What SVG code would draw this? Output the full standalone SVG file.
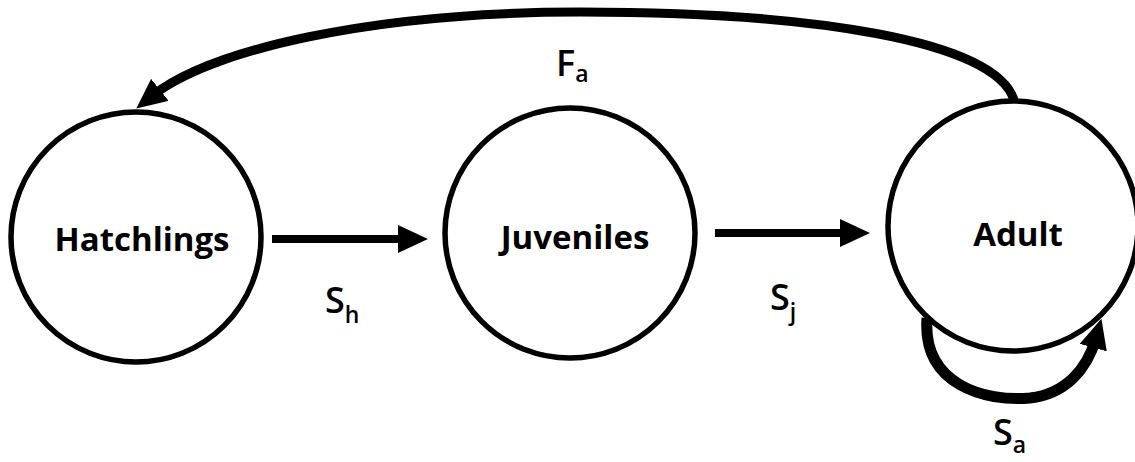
<svg xmlns="http://www.w3.org/2000/svg" width="1135" height="462" viewBox="0 0 1135 462">
<style>
.node{fill:#fff;stroke:#000;stroke-width:5.5}
.lbl{font-family:"Open Sans","Liberation Sans",sans-serif;font-weight:bold;font-size:33px;fill:#000;text-anchor:middle}
.sym{font-family:"Open Sans","Liberation Sans",sans-serif;font-weight:600;font-size:36px;fill:#000}
.sub{font-size:23px}
.edge{fill:none;stroke:#000}
</style>
<defs>
<marker id="ah" markerUnits="userSpaceOnUse" viewBox="0 0 30 28" refX="10" refY="14" markerWidth="30" markerHeight="28" orient="auto">
<path d="M0,0 L30,14 L0,28 z" fill="#000"/>
</marker>
</defs>
<g id="hatchlings"><circle class="node" cx="136" cy="237" r="125"/><text class="lbl" x="142" y="251">Hatchlings</text></g>
<g id="juveniles"><circle class="node" cx="570" cy="233" r="125"/><text class="lbl" x="575" y="249">Juveniles</text></g>
<g id="adult"><circle class="node" cx="1013" cy="226" r="125"/><text class="lbl" x="1018" y="246">Adult</text></g>
<g id="connectors">
<path class="edge" stroke-width="8" d="M272,239 H408" marker-end="url(#ah)"/>
<path class="edge" stroke-width="8" d="M715,233 H850" marker-end="url(#ah)"/>
<path class="edge" stroke-width="9" d="M1014,100 C995,40 810,12 580,12 C370,12 210,50 152,96" marker-end="url(#ah)"/>
<path class="edge" stroke-width="11" d="M927,318 C922,385 985,402 1030,398 C1065,394 1087,370 1096,338" marker-end="url(#ah)"/>
<text class="sym" x="556" y="76">F<tspan class="sub" dy="6">a</tspan></text>
<text class="sym" x="325" y="313">S<tspan class="sub" dy="10">h</tspan></text>
<text class="sym" x="770" y="310">S<tspan class="sub" dy="10">j</tspan></text>
<text class="sym" x="993" y="445">S<tspan class="sub" dy="8">a</tspan></text>
</g>
</svg>
